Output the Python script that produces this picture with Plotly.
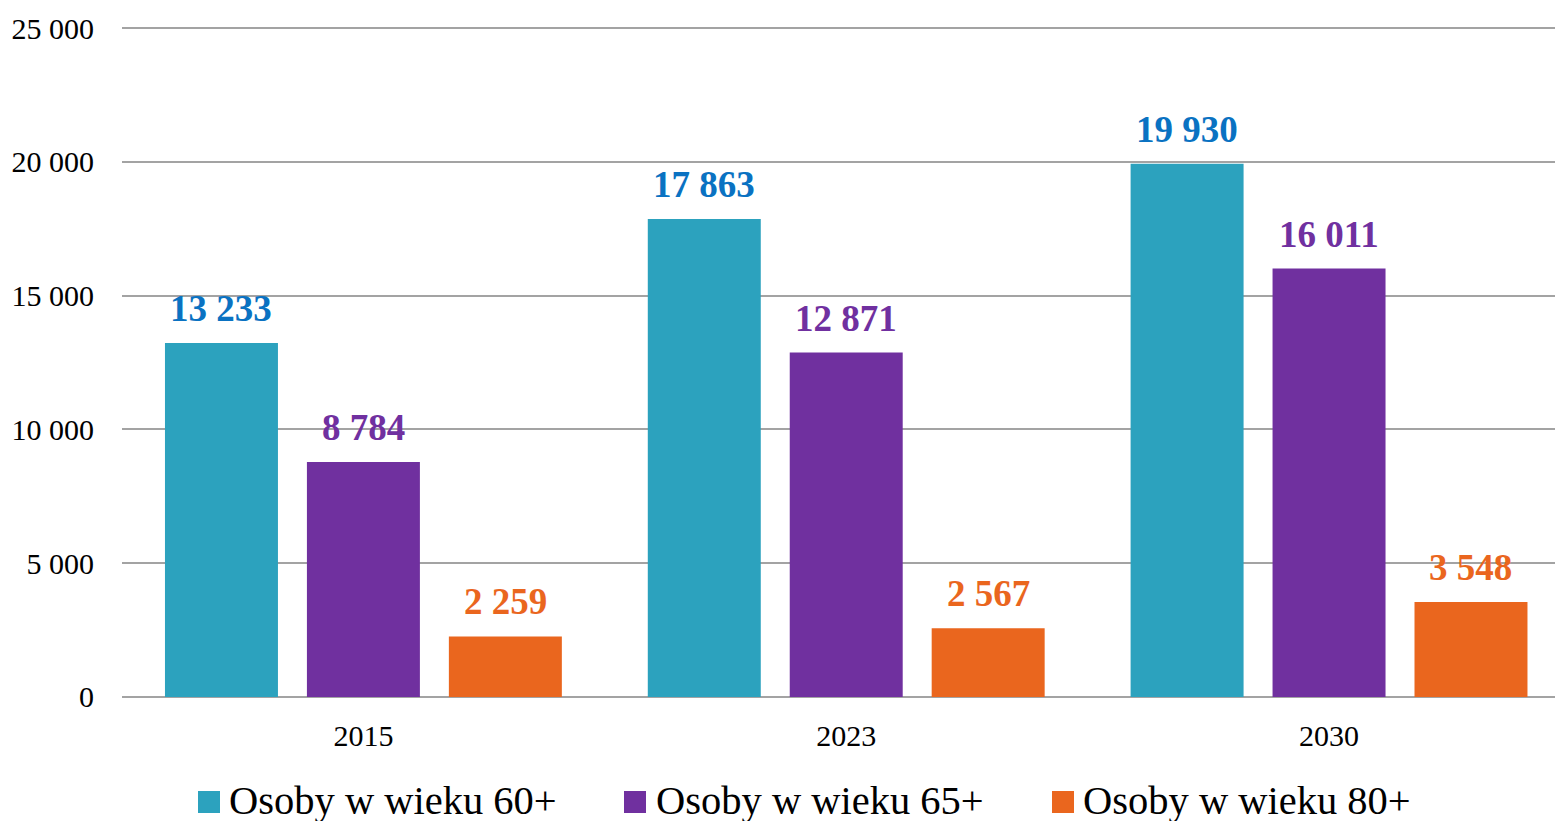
import plotly.graph_objects as go

# ---- data ----
categories = ["2015", "2023", "2030"]
series_names = ["Osoby w wieku 60+", "Osoby w wieku 65+", "Osoby w wieku 80+"]
values_60 = [13233, 17863, 19930]
values_65 = [8784, 12871, 16011]
values_80 = [2259, 2567, 3548]
y_ticks = [0, 5000, 10000, 15000, 20000, 25000]

# ---- style ----
bar_colors = ["#2CA2BE", "#70309F", "#EA661E"]
label_colors = ["#0A72C2", "#7030A0", "#EA661E"]
W, H = 1555, 821
ML, MR, MT, MB = 122, 0, 27, 123
GRID = "#A3A3A3"
FONT = "Liberation Serif"

BAR_W = 0.234
SLOT = 0.294
series = [values_60, values_65, values_80]
xpos = list(range(len(categories)))

fig = go.Figure()
for i, (name, vals) in enumerate(zip(series_names, series)):
    off = (i - 1) * SLOT - BAR_W / 2
    fig.add_trace(go.Bar(
        x=xpos, y=vals, name=name, width=BAR_W, offset=off,
        marker=dict(color=bar_colors[i], line=dict(width=0)),
        showlegend=False, hoverinfo="skip",
    ))
    for xc, v in zip(xpos, vals):
        fig.add_annotation(
            x=xc + off + BAR_W / 2, y=v, xref="x", yref="y",
            text=f"{v:,}".replace(",", " "), showarrow=False,
            yanchor="bottom", xanchor="center", yshift=12,
            font=dict(family=FONT, size=37, color=label_colors[i], weight="bold"),
        )

# ---- custom legend (positions given in page pixels) ----
pw = W - ML - MR
ph = H - MT - MB
def px_x(px):
    return (px - ML) / pw
def px_y(py):
    return (H - MB - py) / ph

legend_sq_x = [198, 624, 1052]
legend_txt_x = [227, 654, 1081]
for i, name in enumerate(series_names):
    fig.add_shape(type="rect", xref="paper", yref="paper",
                  x0=px_x(legend_sq_x[i]), x1=px_x(legend_sq_x[i] + 22),
                  y0=px_y(813), y1=px_y(791),
                  fillcolor=bar_colors[i], line=dict(width=0), layer="above")
    fig.add_annotation(x=px_x(legend_txt_x[i]), y=px_y(800), xref="paper", yref="paper",
                       text=name, showarrow=False, xanchor="left", yanchor="middle",
                       font=dict(family=FONT, size=40.5, color="#000000"))

fig.update_layout(
    width=W, height=H,
    margin=dict(l=ML, r=MR, t=MT, b=MB, pad=0),
    plot_bgcolor="white", paper_bgcolor="white",
    separators=", ",
    showlegend=False,
    font=dict(family=FONT, color="#000000"),
)
fig.update_xaxes(
    range=[-0.5, 2.468], tickvals=xpos, ticktext=categories,
    showgrid=False, zeroline=False, showline=False, ticks="",
    tickfont=dict(family=FONT, size=30, color="#000000"),
    ticklabelstandoff=17,
)
fig.update_yaxes(
    range=[-40, 25040], tickvals=y_ticks, tickformat=",",
    showgrid=True, gridcolor=GRID, gridwidth=2,
    zeroline=False, showline=False, ticks="",
    tickfont=dict(family=FONT, size=30, color="#000000"),
    ticklabelstandoff=27,
)

fig.write_html(
    "out.html",
    config={"displayModeBar": False},
    post_script="document.body.style.margin='0';document.body.style.overflow='hidden';",
)
